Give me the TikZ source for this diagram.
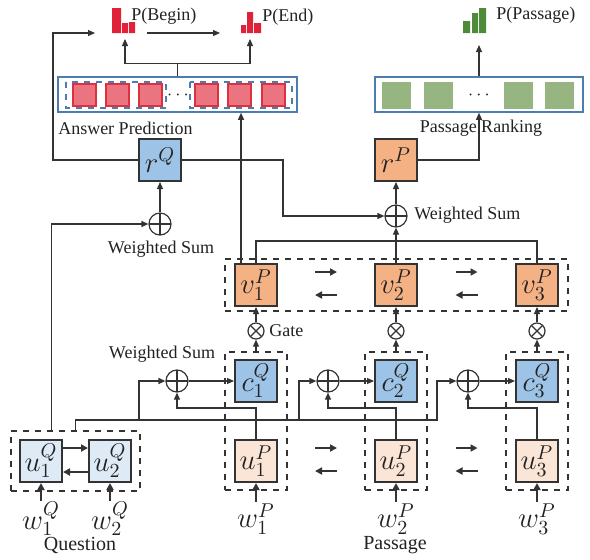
\documentclass[tikz,border=0pt]{standalone}
\usepackage{fontspec}
\setmainfont{Liberation Serif}
\usetikzlibrary{arrows.meta, positioning, fit, calc}
\definecolor{qblue}{HTML}{9DC3E6}
\definecolor{porange}{HTML}{F4B183}
\definecolor{qlight}{HTML}{DEEBF7}
\definecolor{plight}{HTML}{FBE5D6}
\definecolor{sqred}{HTML}{EA7480}
\definecolor{edred}{HTML}{E0303E}
\definecolor{iconred}{HTML}{E0213A}
\definecolor{sqgreen}{HTML}{97B581}
\definecolor{icongreen}{HTML}{4E8A3A}
\definecolor{frameblue}{HTML}{4A7EAF}
\definecolor{wirec}{HTML}{333333}
\definecolor{txt}{HTML}{222222}
\tikzset{
  box/.style={draw=wirec, line width=1pt, minimum width=21pt, minimum height=21pt, inner sep=0pt, font=\Large},
  grp/.style={draw=wirec, dashed, line width=0.6pt, inner xsep=4.5pt, inner ysep=3.5pt},
  wire/.style={draw=wirec, line width=0.6pt},
  arr/.style={wire, -{Triangle[length=3.5pt,width=3pt]}},
  barr/.style={draw=wirec, line width=1.1pt, -{Triangle[length=3.5pt,width=3.5pt]}},
  oplus/.style={circle, draw=wirec, line width=0.6pt, minimum size=11pt, inner sep=0pt,
    path picture={\draw[wirec, line width=0.6pt] (path picture bounding box.north) -- (path picture bounding box.south)
      (path picture bounding box.west) -- (path picture bounding box.east);}},
  otimes/.style={circle, draw=wirec, line width=0.6pt, minimum size=8pt, inner sep=0pt,
    path picture={\draw[wirec, line width=0.6pt] (path picture bounding box.north west) -- (path picture bounding box.south east)
      (path picture bounding box.north east) -- (path picture bounding box.south west);}},
  lbl/.style={inner sep=1pt},
  wlbl/.style={inner sep=0.5pt, font=\Large},
  ansbox/.style={draw=frameblue, line width=0.8pt, inner sep=0pt},
  adash/.style={draw=frameblue, dashed, line width=0.7pt},
  redsq/.style={fill=sqred, draw=edred, line width=0.6pt, minimum width=11.5pt, minimum height=11pt, inner sep=0pt},
  greensq/.style={fill=sqgreen, minimum width=14.5pt, minimum height=13.5pt, inner sep=0pt}
}
\begin{document}
\begin{tikzpicture}[x=0.5pt, y=-0.5pt, font=\fontsize{9}{10}\selectfont, text=txt]
\useasboundingbox (0,0) rectangle (590,559);

% output distributions
\fill[iconred] (112,8) rectangle (121,33) (122,23) rectangle (128,33) (129,22) rectangle (135,33);
\fill[iconred] (241,25) rectangle (246,33) (247,12) rectangle (253,33) (254,23) rectangle (261,33);
\fill[icongreen] (463,21) rectangle (470,33) (472,13) rectangle (478,33) (479,8) rectangle (486,33);
\node[lbl, anchor=west] (pbeg) at (129,16) {P(Begin)};
\node[lbl, anchor=west] (pend) at (260,17) {P(End)};
\node[lbl, anchor=west] (ppas) at (494,15) {P(Passage)};
\coordinate (bin) at (125,39);
\coordinate (ein) at (250,39);
\coordinate (pin) at (479,45);
\coordinate (rqin) at (95,33);
\coordinate (b2e) at (147,33);
\coordinate (e2b) at (220,33);
\draw[arr] (b2e) -- (e2b);

% answer prediction and passage ranking layers
\node[ansbox, minimum width=119.5pt, minimum height=17.5pt] (ans) at (177.5,94.5) {};
\draw[adash] (66,82) rectangle (166,108);
\draw[adash] (190,82) rectangle (292,108);
\foreach \x in {84.5,117.5,150.5,206.5,239.5,273.5}
  \node[redsq] at (\x,95) {};
\node at (178,95) {$\cdots$};
\node[lbl] (anslbl) at (125.5,128) {Answer Prediction};
\node[ansbox, minimum width=104pt, minimum height=17.5pt] (rank) at (479,94.5) {};
\foreach \x in {396.5,438,518.5,559.5}
  \node[greensq] at (\x,95) {};
\node at (479,95) {$\cdots$};
\node[lbl] (ranklbl) at (481,128) {Passage Ranking};
\draw[arr] (ans.north) -- ++(0,-13) -| (bin);
\draw[arr] (ans.north) -- ++(0,-13) -| (ein);
\draw[arr] (rank.north) -- (pin);

% summary vectors
\node[box, fill=qblue] (rQ) at (160,160) {$r^Q$};
\node[box, fill=porange] (rP) at (396,160) {$r^P$};
\node[oplus] (ws1) at (160,224) {};
\node[oplus] (ws2) at (396,216) {};
\node[lbl] at (161,249) {Weighted Sum};
\node[lbl, anchor=west] at (412,215) {Weighted Sum};

% passage columns
\foreach \i/\x in {1/256,2/396,3/537} {
  \node[box, fill=porange] (v\i) at (\x,285) {$v_\i^P$};
  \node[otimes] (g\i) at (\x,331) {};
  \node[box, fill=qblue] (c\i) at (\x,381) {$c_\i^Q$};
  \node[box, fill=plight] (u\i) at (\x,461) {$u_\i^P$};
  \node[grp, fit=(c\i)(u\i)] (cg\i) {};
  \node[wlbl] (wp\i) at (\x,519) {$w_\i^P$};
  \draw[barr] (wp\i.north) -- (u\i.south);
  \draw[arr] (cg\i.north) -- (g\i.south);
  \draw[arr] (g\i.north) -- (v\i.south);
}
\node[grp, inner ysep=2pt, fit=(v1)(v3)] (vg) {};
\node[lbl, anchor=west] at (267,331) {Gate};
\foreach \i/\x in {1/177,2/328,3/468} {
  \node[oplus] (s\i) at (\x,381) {};
  \draw[arr] (s\i.east) -- (c\i.west);
  \draw[arr] (u\i.north) -- ++(0,-31) -| (s\i.south);
}
\node[lbl] at (162,354) {Weighted Sum};
\foreach \a/\b in {1/2,2/3}
  \foreach \r in {u,v} {
    \coordinate (m\r\a) at ($(\r\a.east)!0.5!(\r\b.west)$);
    \draw[barr] ([xshift=-5.5pt,yshift=6.5pt]m\r\a) -- ([xshift=5.5pt,yshift=6.5pt]m\r\a);
    \draw[barr] ([xshift=5.5pt,yshift=-5pt]m\r\a) -- ([xshift=-5.5pt,yshift=-5pt]m\r\a);
  }

% question
\node[box, fill=qlight] (q1) at (41,461) {$u_1^Q$};
\node[box, fill=qlight] (q2) at (110,461) {$u_2^Q$};
\node[grp, inner xsep=4pt, inner ysep=4pt, fit=(q1)(q2)] (qg) {};
\draw[barr] ([yshift=6.5pt]q1.east) -- ([yshift=6.5pt]q2.west);
\draw[barr] ([yshift=-5.5pt]q2.west) -- ([yshift=-5.5pt]q1.east);
\node[wlbl] (wq1) at (41,519) {$w_1^Q$};
\node[wlbl] (wq2) at (110,519) {$w_2^Q$};
\draw[barr] (wq1.north) -- (q1.south);
\draw[barr] (wq2.north) -- (q2.south);
\node[lbl] at (80,545) {\fontsize{10}{11}\selectfont Question};
\node[lbl] at (395,545) {\fontsize{10}{11}\selectfont Passage};

% attention wiring
\draw[arr] (qg.north) |- (437,420) |- (s3.west);
\draw[arr] (139,420) |- (s1.west);
\draw[arr] (299,420) |- (s2.west);
\draw[arr] ($(qg.north west)+(41,0)$) |- (ws1.west);
\draw[arr] (ws1.north) -- (rQ.south);
\draw[arr] (rQ.west) -| (53,33) -- (rqin);
\draw[arr] (rQ.east) -- (283,160) |- (ws2.west);
\draw[arr] (ws2.north) -- (rP.south);
\draw[arr] (rP.east) -| (rank.south);
\draw[arr] (v2.north) -- (ws2.south);
\draw[wire] (v1.north) -- ++(0,-22) -| (v3.north);
\coordinate (vout) at ([xshift=-7.5pt]v1.north);
\draw[arr] (vout) -- (vout |- ans.south);
\end{tikzpicture}
\end{document}
